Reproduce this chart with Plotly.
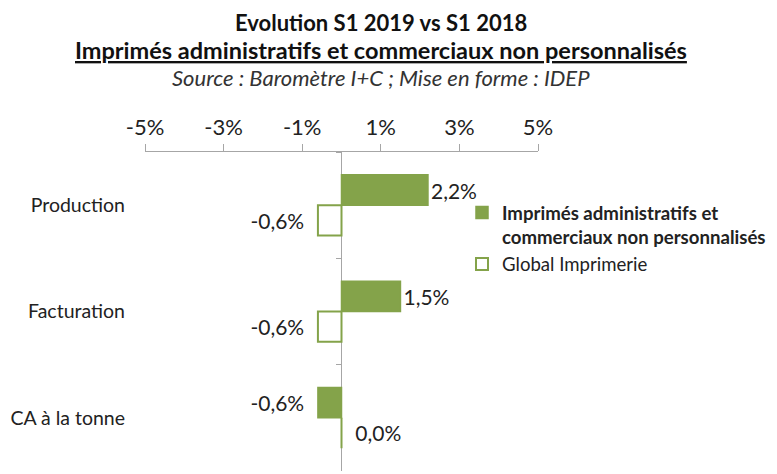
import plotly.graph_objects as go

categories = ["Production", "Facturation", "CA à la tonne"]
series_names = ["Imprimés administratifs et<br>commerciaux non personnalisés", "Global Imprimerie"]
imprimes_values = [2.2, 1.5, -0.6]
global_values = [-0.6, -0.6, 0.0]
tick_values = [-5, -3, -1, 1, 3, 5]
tick_labels = ["-5%", "-3%", "-1%", "1%", "3%", "5%"]

GREEN = "#84A34A"
GRAY = "#A6A6A6"
FONT = "Lato"
OFF = 8  # page body margin
W, H = 777 - OFF, 474 - OFF
L = 145 - OFF
T = 152 - OFF
R = W - (538 - OFF)
B = H - (471 - OFF)
PH = H - T - B
PW = W - L - R


def fmt(v):
    s = f"{v:.1f}%".replace(".", ",")
    if v < 0:
        return s + "\u00a0\u00a0"
    if v == 0:
        return "\u00a0\u00a0" + s
    return s


def py(y):
    return (H - B - (y - OFF)) / PH


def px(x):
    return (x - OFF - L) / PW


fig = go.Figure()
fig.add_trace(go.Bar(
    y=categories, x=imprimes_values, orientation="h",
    name="<b>" + series_names[0] + "</b>",
    marker=dict(color=GREEN, line=dict(color=GREEN, width=1.5)),
    text=[fmt(v) for v in imprimes_values], textposition="outside",
    textfont=dict(family=FONT, size=21, color="#222"), cliponaxis=False,
))
fig.add_trace(go.Bar(
    y=categories, x=global_values, orientation="h",
    name=series_names[1],
    marker=dict(color="white", line=dict(color=GREEN, width=2)),
    text=[fmt(v) for v in global_values], textposition="outside",
    textfont=dict(family=FONT, size=21, color="#222"), cliponaxis=False,
))
# invisible helper trace to show category-boundary ticks on the zero axis
fig.add_trace(go.Scatter(
    y=categories, x=[0] * len(categories), yaxis="y2", mode="markers",
    marker=dict(opacity=0), showlegend=False, hoverinfo="skip",
))

fig.update_layout(
    width=W, height=H,
    margin=dict(l=L, r=R, t=T, b=B, autoexpand=False),
    paper_bgcolor="white", plot_bgcolor="white",
    barmode="group", bargap=0.43, bargroupgap=0,
    font=dict(family=FONT, size=16, color="#222"),
    showlegend=True,
    legend=dict(x=px(462), xanchor="left", y=py(194), yanchor="top",
                valign="top", font=dict(family=FONT, size=18.6, color="#222"),
                tracegroupgap=9, bgcolor="rgba(0,0,0,0)"),
    xaxis=dict(side="top", range=[-5, 5], tickvals=tick_values, ticktext=tick_labels,
               showgrid=False, zeroline=True, zerolinecolor=GRAY, zerolinewidth=1.3,
               showline=True, linecolor=GRAY, linewidth=1.3, ticks="outside",
               ticklen=7, tickcolor=GRAY, tickwidth=1.3, automargin=False,
               tickfont=dict(family=FONT, size=22, color="#222"), fixedrange=True),
    yaxis=dict(categoryorder="array", categoryarray=categories, range=[2.5, -0.5],
               showgrid=False, showline=False, ticks="", ticklabelstandoff=19,
               automargin=False,
               tickfont=dict(family=FONT, size=19.5, color="#222")),
    yaxis2=dict(overlaying="y", anchor="free", position=0.5, categoryorder="array",
                categoryarray=categories, range=[2.5, -0.5], showgrid=False,
                showline=False, showticklabels=False, ticks="outside", automargin=False,
                tickson="boundaries", ticklen=6, tickcolor=GRAY, tickwidth=1.3),
    annotations=[
        dict(text="<b>Evolution S1 2019 vs S1 2018</b>", xref="paper", yref="paper",
             x=px(381), y=py(8), xanchor="center", yanchor="top", borderpad=0,
             showarrow=False, font=dict(family=FONT, size=22, color="#111")),
        dict(text="<b><u>Imprimés administratifs et commerciaux non personnalisés</u></b>",
             xref="paper", yref="paper", x=px(381), y=py(50), borderpad=0,
             xanchor="center", yanchor="middle", showarrow=False,
             font=dict(family=FONT, size=23.5, color="#111")),
        dict(text="<i>Source : Baromètre I+C ; Mise en forme : IDEP</i>",
             xref="paper", yref="paper", x=px(381), y=py(78), borderpad=0,
             xanchor="center", yanchor="middle", showarrow=False,
             font=dict(family=FONT, size=22, color="#333")),
    ],
)

fig.write_html("out.html")
